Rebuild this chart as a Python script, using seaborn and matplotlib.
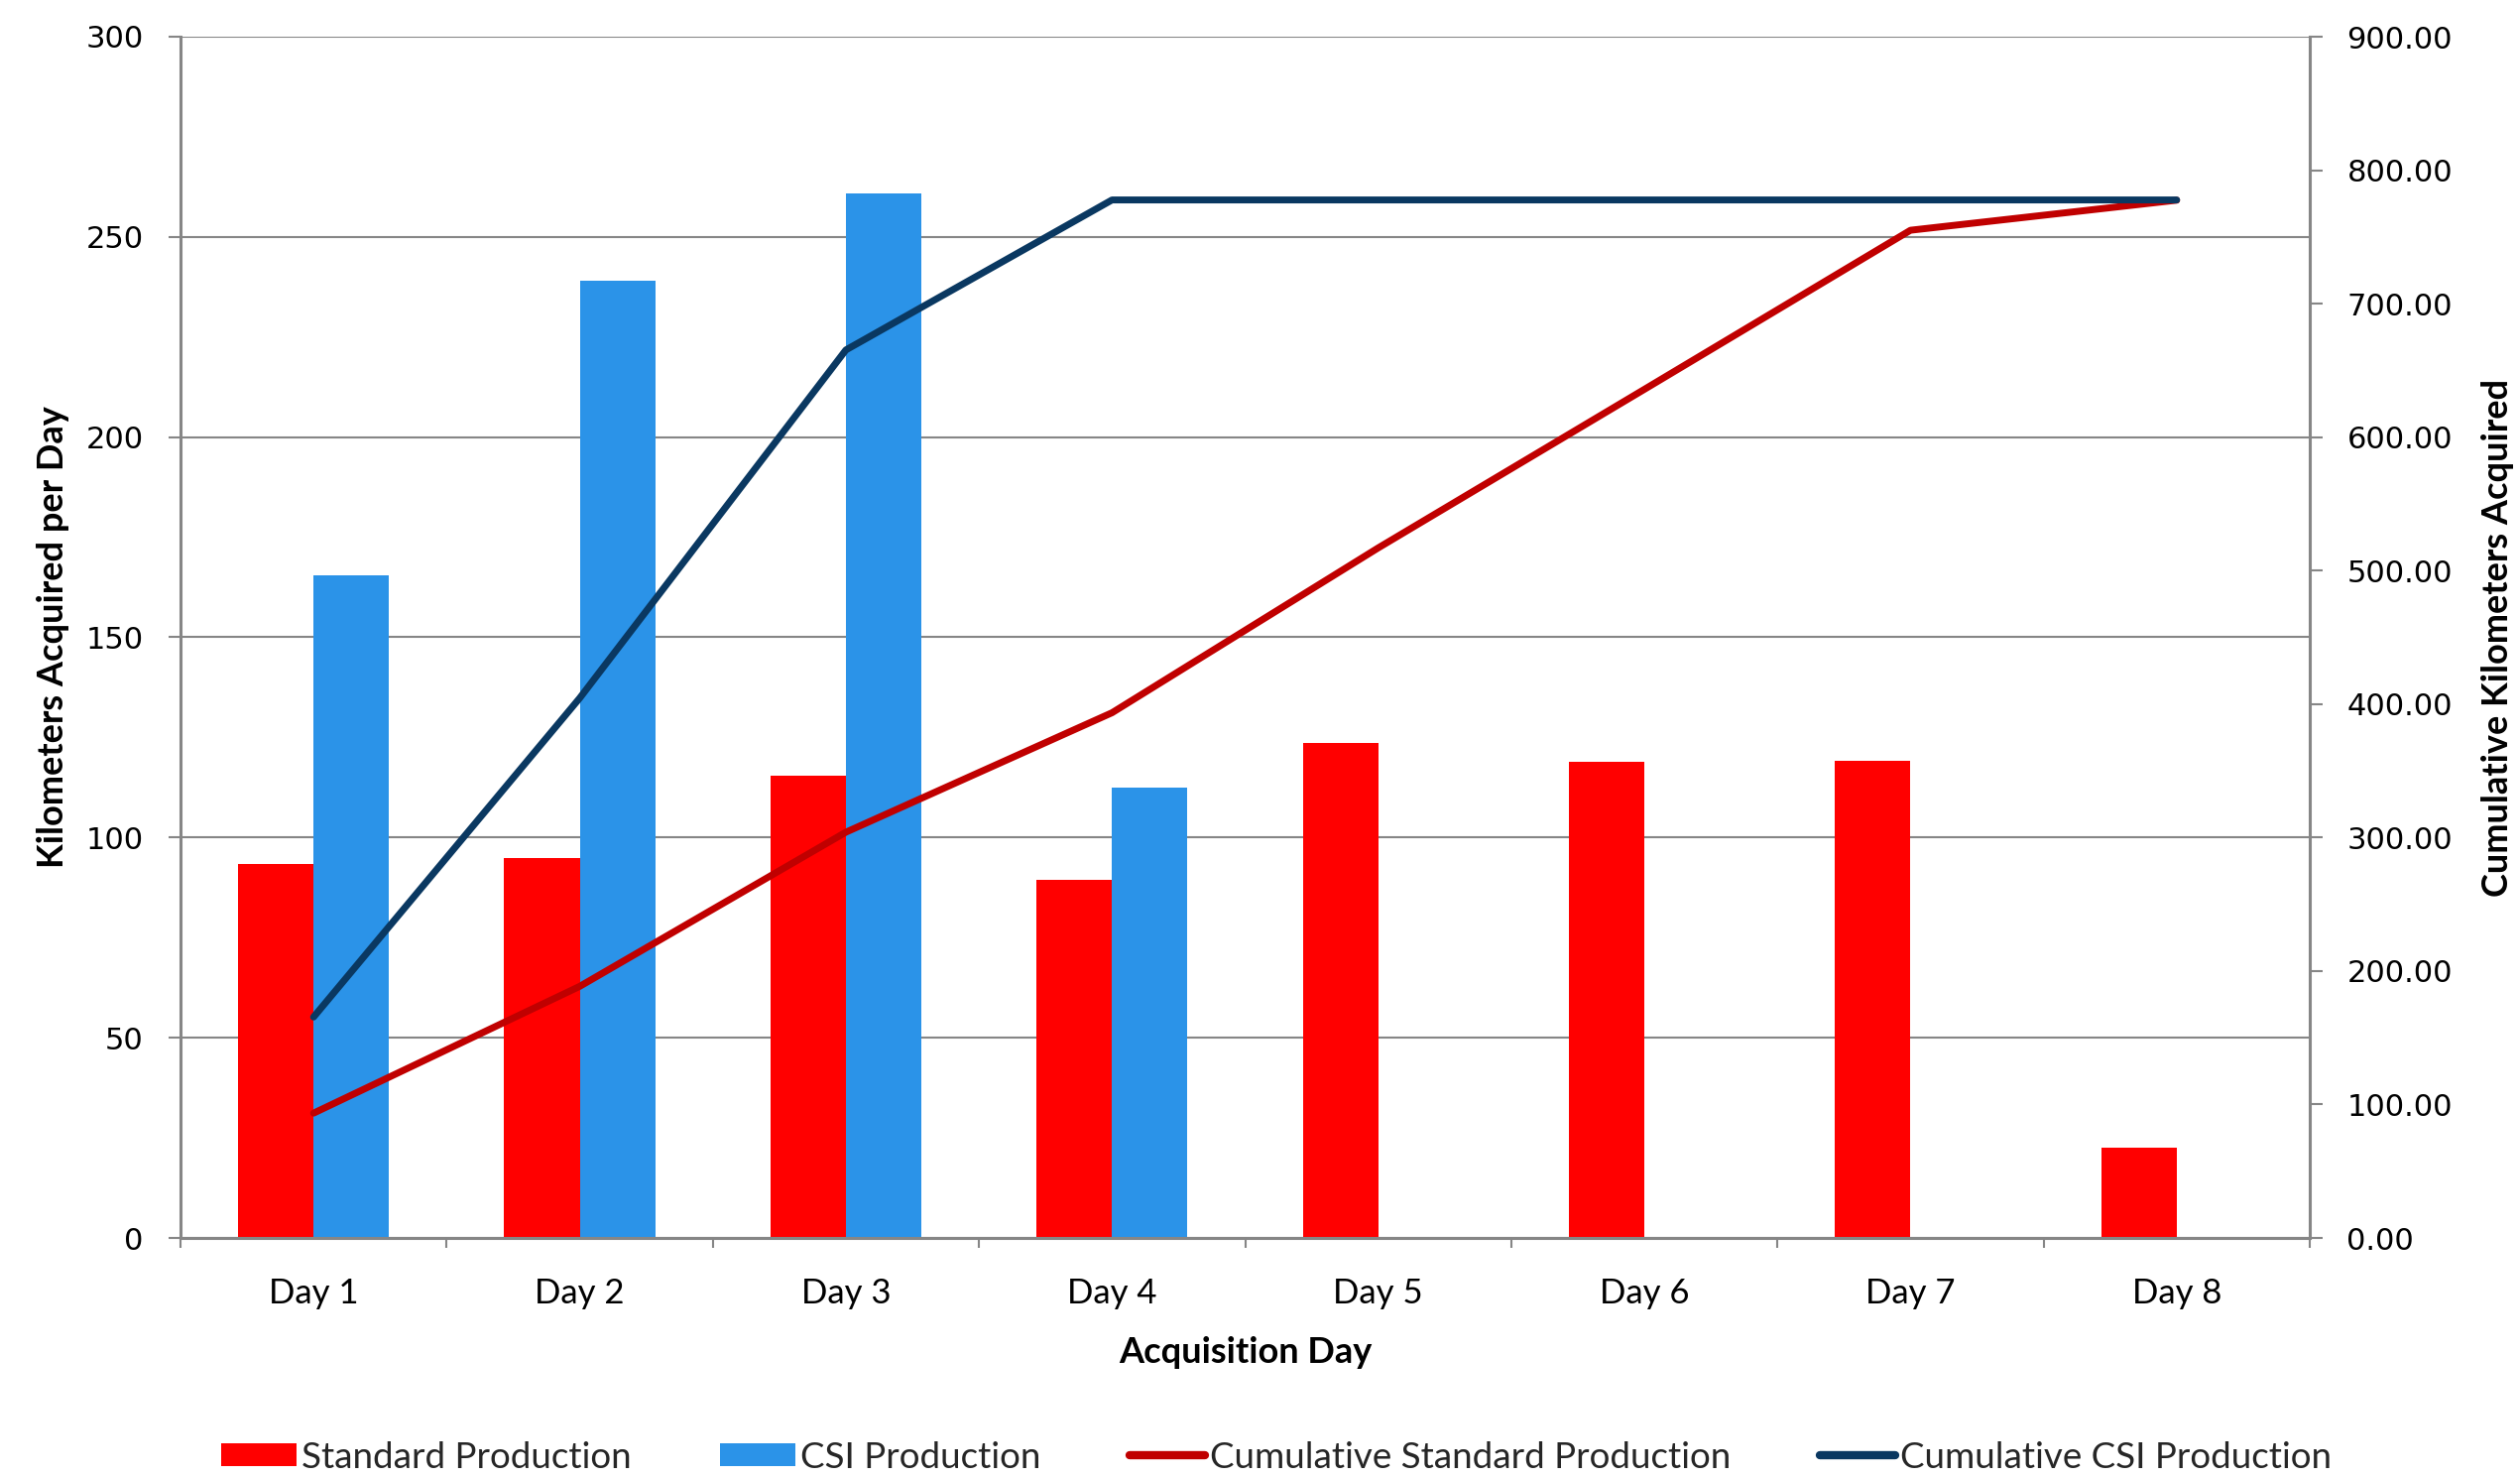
import numpy as np
import pandas as pd
import matplotlib
matplotlib.use("Agg")
import matplotlib.pyplot as plt
from matplotlib.lines import Line2D
from matplotlib.patches import Patch
from matplotlib.ticker import FormatStrFormatter
import seaborn as sns

# ---- data -------------------------------------------------------------
days = ["Day 1", "Day 2", "Day 3", "Day 4", "Day 5", "Day 6", "Day 7", "Day 8"]
standard_km = [93.5, 95.0, 115.5, 89.5, 123.5, 118.8, 119.2, 22.5]
csi_km = [165.5, 239.0, 260.8, 112.4, 0.0, 0.0, 0.0, 0.0]
cumulative_standard = [93.5, 188.5, 304.0, 393.5, 517.0, 635.8, 755.0, 777.5]
cumulative_csi = [165.5, 404.5, 665.3, 777.7, 777.7, 777.7, 777.7, 777.7]

series_names = ["Standard Production", "CSI Production",
                "Cumulative Standard Production", "Cumulative CSI Production"]
left_ticks = [0, 50, 100, 150, 200, 250, 300]
right_ticks = [0, 100, 200, 300, 400, 500, 600, 700, 800, 900]

# ---- style ------------------------------------------------------------
sns.set_theme(style="white")
plt.rcParams["font.family"] = ["Lato", "DejaVu Sans"]

RED = "#FF0000"
BLUE = "#2B93E8"
RED_LINE = "#C00000"
NAVY_LINE = "#0A3861"
GRID = "#868686"

W, H = 2541, 1490
fig = plt.figure(figsize=(W / 100, H / 100), dpi=100)
x0, x1, y_top, y_bot = 182, 2329, 37, 1248
ax = fig.add_axes([x0 / W, 1 - y_bot / H, (x1 - x0) / W, (y_bot - y_top) / H])

# ---- bars (left axis) --------------------------------------------------
bars = pd.DataFrame({
    "day": days * 2,
    "km": standard_km + csi_km,
    "series": [series_names[0]] * len(days) + [series_names[1]] * len(days),
})
sns.barplot(data=bars, x="day", y="km", hue="series", order=days,
            hue_order=series_names[:2], palette=[RED, BLUE], saturation=1,
            width=0.567, errorbar=None, linewidth=0, legend=False, ax=ax)

ax.set_xlim(-0.5, len(days) - 0.5)
ax.set_ylim(0, 300)
ax.set_yticks(left_ticks)
ax.yaxis.grid(True, color=GRID, linewidth=1.5)
ax.xaxis.grid(False)
ax.set_axisbelow(True)

# category boundaries carry the tick marks, centres carry the labels
ax.set_xticks(np.arange(-0.5, len(days), 1.0))
ax.set_xticklabels([])
ax.set_xticks(np.arange(len(days)), minor=True)
ax.set_xticklabels(days, minor=True)
ax.tick_params(axis="x", which="major", direction="out", length=7,
               width=1.5, color=GRID, bottom=True)
ax.tick_params(axis="x", which="minor", length=0, pad=29, labelsize=25,
               labelcolor="black")
ax.tick_params(axis="y", direction="out", length=9, width=1.5, color=GRID,
               pad=18, labelsize=22, labelcolor="black", left=True)
for lab in ax.get_yticklabels():
    lab.set_fontfamily("DejaVu Sans")

for side in ("top", "right"):
    ax.spines[side].set_visible(False)
for side in ("left", "bottom"):
    ax.spines[side].set_color(GRID)
    ax.spines[side].set_linewidth(2.2)

ax.set_xlabel("Acquisition Day", fontsize=26, fontweight="bold", color="black")
ax.xaxis.set_label_coords(0.5, -0.082)
ax.set_ylabel("Kilometers Acquired per Day", fontsize=26, fontweight="bold",
              color="black")
ax.yaxis.set_label_coords(-0.052, 0.5)

# ---- cumulative lines (right axis) ------------------------------------
ax2 = ax.twinx()
positions = np.arange(len(days))
sns.lineplot(x=positions, y=cumulative_standard, color=RED_LINE, linewidth=5.0,
             solid_capstyle="round", solid_joinstyle="round", ax=ax2)
sns.lineplot(x=positions, y=cumulative_csi, color=NAVY_LINE, linewidth=5.0,
             solid_capstyle="round", solid_joinstyle="round", ax=ax2)
ax2.set_ylim(0, 900)
ax2.set_yticks(right_ticks)
ax2.yaxis.set_major_formatter(FormatStrFormatter("%.2f"))
ax2.grid(False)
ax2.tick_params(axis="y", direction="out", length=9, width=1.5, color=GRID,
                pad=18, labelsize=22, labelcolor="black", right=True)
for lab in ax2.get_yticklabels():
    lab.set_fontfamily("DejaVu Sans")
    lab.set_horizontalalignment("left")
for side in ("top", "left", "bottom"):
    ax2.spines[side].set_visible(False)
ax2.spines["right"].set_color(GRID)
ax2.spines["right"].set_linewidth(2.2)
ax2.set_ylabel("Cumulative Kilometers Acquired", fontsize=26, fontweight="bold",
               color="black", rotation=90)
ax2.yaxis.set_label_coords(1.0805, 0.5)
ax2.set_xlim(-0.5, len(days) - 0.5)

# ---- legend ------------------------------------------------------------
handles = [
    Patch(facecolor=RED, edgecolor="none"),
    Patch(facecolor=BLUE, edgecolor="none"),
    Line2D([], [], color=RED_LINE, linewidth=6.0, solid_capstyle="round"),
    Line2D([], [], color=NAVY_LINE, linewidth=6.0, solid_capstyle="round"),
]
fig.legend(handles, series_names, loc="center", ncol=4, frameon=False,
           bbox_to_anchor=(1287 / W, 1 - 1469 / H), fontsize=26.5,
           handlelength=2.07, handleheight=0.6, handletextpad=0.14,
           columnspacing=2.42)

fig.savefig("out.png", dpi=100)
